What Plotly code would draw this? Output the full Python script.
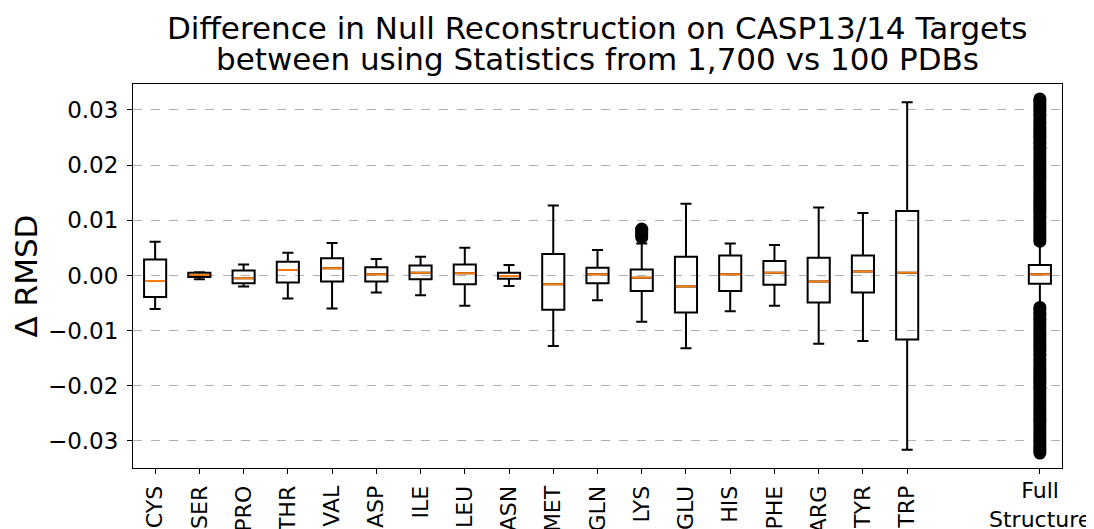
import plotly.graph_objects as go

# residue boxes, values
residues = ['CYS', 'SER', 'PRO', 'THR', 'VAL', 'ASP', 'ILE', 'LEU', 'ASN',
            'MET', 'GLN', 'LYS', 'GLU', 'HIS', 'PHE', 'ARG', 'TYR', 'TRP']
positions = [0, 1, 2, 3, 4, 5, 6, 7, 8, 9, 10, 11, 12, 13, 14, 15, 16, 17, 20]
tick_text = residues + ['']

upper = [0.0061, 0.0006, 0.0020, 0.0041, 0.0059, 0.0030, 0.0034, 0.0050, 0.0019,
         0.0127, 0.0046, 0.0058, 0.0130, 0.0058, 0.0055, 0.0123, 0.0113, 0.0314, 0.0057]
q3 = [0.0029, 0.0005, 0.0009, 0.0025, 0.0031, 0.0015, 0.0018, 0.0020, 0.0005,
      0.0039, 0.0014, 0.0011, 0.0034, 0.0036, 0.0026, 0.0032, 0.0036, 0.0117, 0.0019]
medians = [-0.0010, 0.0001, -0.0005, 0.0010, 0.0013, 0.0002, 0.0005, 0.0004, -0.0001,
           -0.0016, 0.0002, -0.0004, -0.0020, 0.0002, 0.0005, -0.0011, 0.0007, 0.0005, 0.0002]
q1 = [-0.0039, -0.0003, -0.0014, -0.0013, -0.0011, -0.0011, -0.0007, -0.0016, -0.0006,
      -0.0062, -0.0014, -0.0028, -0.0067, -0.0028, -0.0017, -0.0049, -0.0031, -0.0116, -0.0015]
lower = [-0.0061, -0.0007, -0.0020, -0.0042, -0.0060, -0.0031, -0.0036, -0.0055, -0.0019,
         -0.0128, -0.0045, -0.0084, -0.0132, -0.0065, -0.0055, -0.0124, -0.0119, -0.0316, -0.0055]

# fliers
lys_outliers = [0.0069, 0.0072, 0.0075, 0.0079, 0.0082, 0.0084]
full_outliers = [0.0062, 0.0067, 0.0071, 0.0076, 0.0080, 0.0085, 0.0090, 0.0094, 0.0099,
                 0.0104, 0.0108, 0.0113, 0.0118, 0.0122, 0.0127, 0.0131, 0.0136, 0.0141,
                 0.0145, 0.0150, 0.0155, 0.0159, 0.0164, 0.0168, 0.0173, 0.0178, 0.0182,
                 0.0187, 0.0192, 0.0196, 0.0201, 0.0205, 0.0210, 0.0215, 0.0219, 0.0224,
                 0.0229, 0.0233, 0.0238, 0.0242, 0.0247, 0.0252, 0.0256, 0.0261, 0.0266,
                 0.0270, 0.0275, 0.0279, 0.0284, 0.0289, 0.0293, 0.0298, 0.0303, 0.0307,
                 0.0312, 0.0316, 0.0320,
                 -0.0058, -0.0063, -0.0068, -0.0072, -0.0077, -0.0081, -0.0086, -0.0091,
                 -0.0095, -0.0100, -0.0105, -0.0109, -0.0114, -0.0118, -0.0123, -0.0128,
                 -0.0132, -0.0137, -0.0142, -0.0146, -0.0151, -0.0155, -0.0160, -0.0165,
                 -0.0169, -0.0174, -0.0179, -0.0183, -0.0188, -0.0192, -0.0197, -0.0202,
                 -0.0206, -0.0211, -0.0216, -0.0220, -0.0225, -0.0229, -0.0234, -0.0239,
                 -0.0243, -0.0248, -0.0253, -0.0257, -0.0262, -0.0266, -0.0271, -0.0276,
                 -0.0280, -0.0285, -0.0290, -0.0294, -0.0299, -0.0303, -0.0308, -0.0313,
                 -0.0317, -0.0322]

title_lines = ['Difference in Null Reconstruction on CASP13/14 Targets',
               'between using Statistics from 1,700 vs 100 PDBs']

FONT = 'DejaVu Sans'
box_w = 0.5

fig = go.Figure()

fig.add_trace(go.Box(
    x=positions, q1=q1, median=medians, q3=q3,
    lowerfence=lower, upperfence=upper,
    width=box_w, whiskerwidth=0.5,
    line=dict(color='black', width=2),
    fillcolor='rgba(0,0,0,0)',
    boxpoints=False, showlegend=False))

# orange median lines on top
med_x = []
med_y = []
for p, m in zip(positions, medians):
    med_x += [p - box_w / 2 + 0.02, p + box_w / 2 - 0.02, None]
    med_y += [m, m, None]
fig.add_trace(go.Scatter(x=med_x, y=med_y, mode='lines',
                         line=dict(color='#ff7f0e', width=2),
                         showlegend=False, hoverinfo='skip'))

flier_x = [positions[residues.index('LYS')]] * len(lys_outliers) + [positions[-1]] * len(full_outliers)
flier_y = lys_outliers + full_outliers
fig.add_trace(go.Scatter(x=flier_x, y=flier_y, mode='markers',
                         marker=dict(symbol='circle-open', size=9.5, color='black',
                                     line=dict(width=3.5, color='black')),
                         showlegend=False))

fig.add_annotation(x=positions[-1], xref='x', y=0, yref='paper', yshift=-8,
                   text='Full<br>Structure', showarrow=False, yanchor='top',
                   font=dict(family=FONT, size=22, color='black'))

# two-line title, placed line by line
for line, ypos in zip(title_lines, [1.1466, 1.0643]):
    fig.add_annotation(x=0.5, xref='paper', y=ypos, yref='paper', yanchor='middle',
                       text=line, showarrow=False,
                       font=dict(family=FONT, size=31, color='black'))

fig.update_layout(
    width=1086, height=521,
    margin=dict(l=125, r=32, t=76, b=61),
    paper_bgcolor='white', plot_bgcolor='white',
    font=dict(family=FONT, size=23, color='black'),
)

fig.update_xaxes(range=[-0.5, 20.5], tickmode='array', tickvals=positions, ticktext=tick_text,
                 tickangle=-90, ticks='outside', ticklen=5, tickcolor='black', ticklabelstandoff=3,
                 tickfont=dict(size=22),
                 showline=True, linecolor='black', linewidth=1, mirror=True,
                 showgrid=False, zeroline=False, automargin=False)
fig.update_yaxes(range=[-0.0349, 0.0347], tickmode='array',
                 tickvals=[-0.03, -0.02, -0.01, 0, 0.01, 0.02, 0.03], tickformat='.2f',
                 ticks='outside', ticklen=5, tickcolor='black', ticklabelstandoff=4,
                 showline=True, linecolor='black', linewidth=1, mirror=True,
                 showgrid=True, gridcolor='#b0b0b0', griddash='dash', gridwidth=1,
                 zeroline=False, automargin=False,
                 title=dict(text='Δ RMSD', font=dict(family=FONT, size=31), standoff=15))

fig.write_html("out.html")
